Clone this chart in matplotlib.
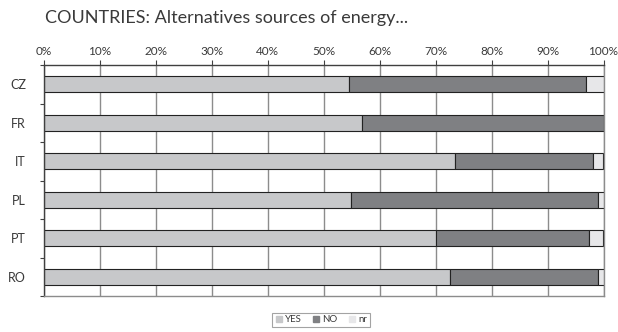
import numpy as np
import matplotlib.pyplot as plt
from matplotlib.ticker import FixedLocator
from matplotlib.lines import Line2D

plt.rcParams['font.family'] = ['Lato', 'DejaVu Sans']

countries = ['CZ', 'FR', 'IT', 'PL', 'PT', 'RO']
yes = [54.6, 56.9, 73.5, 54.9, 70.0, 72.6]
no = [42.2, 43.1, 24.6, 44.2, 27.4, 26.4]
nr = [3.2, 0.0, 1.9, 0.9, 2.6, 1.0]

c_yes, c_no, c_nr = '#c7c8ca', '#7f8083', '#e7e7e9'
txt = '#3a3a3a'

fig = plt.figure(figsize=(6.18, 3.32), dpi=100)
ax = fig.add_axes([44 / 618, 1 - 296 / 332, 559.5 / 618, 231 / 332])

y = np.arange(len(countries))
h = 0.42
yes = np.array(yes)
no = np.array(no)
nr = np.array(nr)
kw = dict(height=h, edgecolor='#222222', linewidth=0.8)
ax.barh(y, yes, color=c_yes, **kw)
ax.barh(y, no, left=yes, color=c_no, **kw)
ax.barh(y, nr, left=yes + no, color=c_nr, **kw)

ax.set_xlim(0, 100)
ax.set_ylim(len(countries) - 0.5, -0.5)
ax.set_axisbelow(True)

# x axis on top, percent labels
ax.xaxis.tick_top()
ax.set_xticks(np.arange(0, 101, 10))
ax.set_xticklabels([f'{v}%' for v in range(0, 101, 10)])
ax.tick_params(axis='x', length=3.5, width=0.8, color='#404040', pad=2,
               labelsize=8.5, labelcolor=txt)
ax.grid(axis='x', color='#8c8c8c', linewidth=1.0)

# country labels at band centres, tick marks at band edges
ax.set_yticks(y)
ax.set_yticklabels(countries)
ax.tick_params(axis='y', which='major', length=0, pad=13, labelsize=9, labelcolor=txt)
ax.yaxis.set_minor_locator(FixedLocator(np.arange(-0.5, len(countries), 1)))
ax.tick_params(axis='y', which='minor', length=3, width=0.8, color='#404040')

for side in ('left', 'top'):
    ax.spines[side].set_color('#404040')
    ax.spines[side].set_linewidth(1.0)
for side in ('right', 'bottom'):
    ax.spines[side].set_color('#8c8c8c')
    ax.spines[side].set_linewidth(1.0)

fig.text(45 / 618, 1 - 18 / 332, 'COUNTRIES: Alternatives sources of energy...',
         fontsize=13, color=txt, va='center', ha='left')

handles = [Line2D([], [], marker='s', linestyle='none', markersize=5,
                  markerfacecolor=c, markeredgecolor=c) for c in (c_yes, c_no, c_nr)]
leg = fig.legend(handles, ['YES', 'NO', 'nr'], loc='center', ncol=3,
                 bbox_to_anchor=(321 / 618, 1 - 320 / 332), fontsize=7,
                 frameon=True, fancybox=False, handlelength=0.8, handletextpad=0.2,
                 columnspacing=1.1, borderpad=0.3, labelcolor=txt)
leg.get_frame().set_edgecolor('#8c8c8c')
leg.get_frame().set_linewidth(0.8)

fig.savefig('out.png', dpi=100)
